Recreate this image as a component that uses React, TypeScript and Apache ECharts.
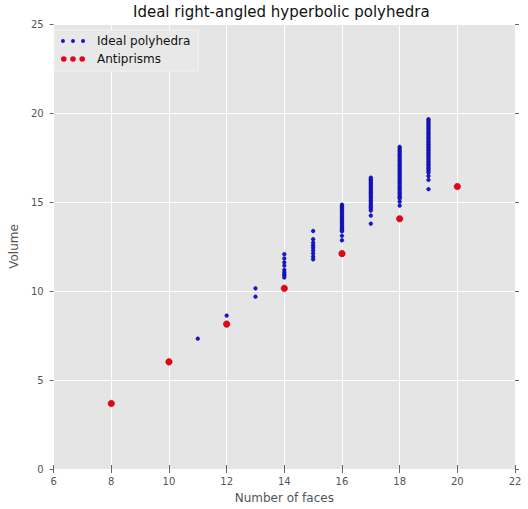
import React, { useEffect, useRef } from "react";
import * as echarts from "echarts";

// Ideal right-angled hyperbolic polyhedra: volume per number of faces
const faces11 = [7.32];
const faces12 = [8.62];
const faces13 = [9.68, 10.15];
const faces14 = [12.07, 11.83, 11.61, 11.43, 11.19, 11.06, 10.94, 10.87, 10.76];
const faces15 = [13.37, 12.91, 12.72, 12.57, 12.43, 12.28, 12.11, 11.93, 11.78];
const faces16 = [14.85, 14.76, 14.68, 14.59, 14.5, 14.41, 14.32, 14.22, 14.13, 14.05, 13.95, 13.86, 13.77, 13.68, 13.58, 13.49, 13.41, 13.35, 13.1, 12.85];
const faces17 = [16.37, 16.28, 16.19, 16.1, 16.01, 15.92, 15.83, 15.73, 15.64, 15.55, 15.46, 15.37, 15.28, 15.18, 15.09, 15.0, 14.9, 14.81, 14.71, 14.62, 14.52, 14.24, 13.78];
const faces18 = [18.1, 18.01, 17.91, 17.82, 17.72, 17.63, 17.54, 17.44, 17.35, 17.25, 17.16, 17.06, 16.97, 16.87, 16.78, 16.68, 16.59, 16.49, 16.4, 16.3, 16.21, 16.11, 16.02, 15.92, 15.83, 15.73, 15.64, 15.54, 15.45, 15.35, 15.26, 15.2, 15.02, 14.8];
const faces19 = [19.65, 19.56, 19.47, 19.38, 19.28, 19.19, 19.1, 19.0, 18.91, 18.82, 18.72, 18.63, 18.54, 18.44, 18.35, 18.25, 18.16, 18.07, 17.97, 17.88, 17.78, 17.69, 17.6, 17.5, 17.41, 17.31, 17.22, 17.12, 17.03, 16.93, 16.84, 16.74, 16.65, 16.46, 16.24, 15.72];

const idealFaces = [11, 12, 13, 14, 15, 16, 17, 18, 19];
const idealVolumes = [faces11, faces12, faces13, faces14, faces15, faces16, faces17, faces18, faces19];

const antiprismFaces = [8, 10, 12, 14, 16, 18, 20];
const antiprismVolumes = [3.68, 6.02, 8.14, 10.15, 12.1, 14.06, 15.87];

const xTicks = [6, 8, 10, 12, 14, 16, 18, 20, 22];
const yTicks = [0, 5, 10, 15, 20, 25];

const FONT = "DejaVu Sans";

const blueIcon =
  "path://M1,2.8a1.8,1.8 0 1,0 3.6,0a1.8,1.8 0 1,0 -3.6,0Z" +
  "M10.2,2.8a1.8,1.8 0 1,0 3.6,0a1.8,1.8 0 1,0 -3.6,0Z" +
  "M19.4,2.8a1.8,1.8 0 1,0 3.6,0a1.8,1.8 0 1,0 -3.6,0Z";
const redIcon =
  "path://M0,2.8a2.8,2.8 0 1,0 5.6,0a2.8,2.8 0 1,0 -5.6,0Z" +
  "M9.2,2.8a2.8,2.8 0 1,0 5.6,0a2.8,2.8 0 1,0 -5.6,0Z" +
  "M18.4,2.8a2.8,2.8 0 1,0 5.6,0a2.8,2.8 0 1,0 -5.6,0Z";

export default function App() {
  const ref = useRef<HTMLDivElement>(null);
  useEffect(() => {
    if (!ref.current) return;
    const chart = echarts.init(ref.current, null, { renderer: "svg" });
    const idealData: number[][] = [];
    idealFaces.forEach((f, i) => {
      idealVolumes[i].forEach((v) => idealData.push([f, v]));
    });
    const antiData = antiprismFaces.map((f, i) => [f, antiprismVolumes[i]]);
    const tickStyle = { show: true, inside: false, length: 4, lineStyle: { color: "#666", width: 1 } };
    chart.setOption({
      animation: false,
      textStyle: { fontFamily: FONT },
      title: {
        text: "Ideal right-angled hyperbolic polyhedra",
        left: 133,
        top: 4,
        padding: 0,
        textStyle: { fontFamily: FONT, fontSize: 15, fontWeight: "normal", color: "#111" },
      },
      grid: {
        left: 50,
        right: 13,
        top: 24,
        bottom: 37,
        show: true,
        backgroundColor: "#e5e5e5",
        borderWidth: 0,
      },
      legend: {
        orient: "vertical",
        left: 54,
        top: 30,
        padding: [5, 8, 6, 7],
        itemGap: 6,
        itemWidth: 24,
        itemHeight: 6,
        backgroundColor: "#e8e8e8",
        borderColor: "#f2f2f2",
        borderWidth: 1,
        textStyle: { fontFamily: FONT, fontSize: 12, color: "#111", padding: [0, 0, 0, 7] },
        data: [
          { name: "Ideal polyhedra", icon: blueIcon, itemStyle: { color: "#1515c8", borderWidth: 0 } },
          { name: "Antiprisms", icon: redIcon, itemStyle: { color: "#e8001c", borderWidth: 0 } },
        ],
      },
      xAxis: [
        {
          type: "value",
          min: xTicks[0],
          max: xTicks[xTicks.length - 1],
          interval: 2,
          position: "bottom",
          axisLine: { show: false },
          axisTick: tickStyle,
          axisLabel: { color: "#555", fontSize: 10, fontFamily: FONT, margin: 7 },
          splitLine: { show: true, lineStyle: { color: "#ffffff", width: 1 } },
          name: "Number of faces",
          nameLocation: "middle",
          nameGap: 23,
          nameTextStyle: { fontFamily: FONT, fontSize: 12, color: "#555" },
        },
        {
          type: "value",
          min: xTicks[0],
          max: xTicks[xTicks.length - 1],
          interval: 2,
          position: "top",
          axisLine: { show: false },
          axisTick: tickStyle,
          axisLabel: { show: false },
          splitLine: { show: false },
        },
      ],
      yAxis: [
        {
          type: "value",
          min: yTicks[0],
          max: yTicks[yTicks.length - 1],
          interval: 5,
          position: "left",
          axisLine: { show: false },
          axisTick: tickStyle,
          axisLabel: { color: "#555", fontSize: 10, fontFamily: FONT, margin: 10 },
          splitLine: { show: true, lineStyle: { color: "#ffffff", width: 1 } },
          name: "Volume",
          nameLocation: "middle",
          nameGap: 30,
          nameTextStyle: { fontFamily: FONT, fontSize: 12, color: "#555" },
        },
        {
          type: "value",
          min: yTicks[0],
          max: yTicks[yTicks.length - 1],
          interval: 5,
          position: "right",
          axisLine: { show: false },
          axisTick: tickStyle,
          axisLabel: { show: false },
          splitLine: { show: false },
        },
      ],
      series: [
        {
          name: "Ideal polyhedra",
          type: "scatter",
          xAxisIndex: 0,
          yAxisIndex: 0,
          symbol: "circle",
          symbolSize: 3.8,
          itemStyle: { color: "#1515e0", borderColor: "#0a0a60", borderWidth: 0.4, opacity: 1 },
          data: idealData,
        },
        {
          name: "Antiprisms",
          type: "scatter",
          xAxisIndex: 0,
          yAxisIndex: 0,
          symbol: "circle",
          symbolSize: 6.5,
          itemStyle: { color: "#f00010", borderColor: "#8a0010", borderWidth: 0.5, opacity: 1 },
          data: antiData,
        },
      ],
    });
    return () => chart.dispose();
  }, []);
  return <div ref={ref} style={{ width: 528, height: 509, position: "absolute", left: 0, top: 0 }} />;
}
